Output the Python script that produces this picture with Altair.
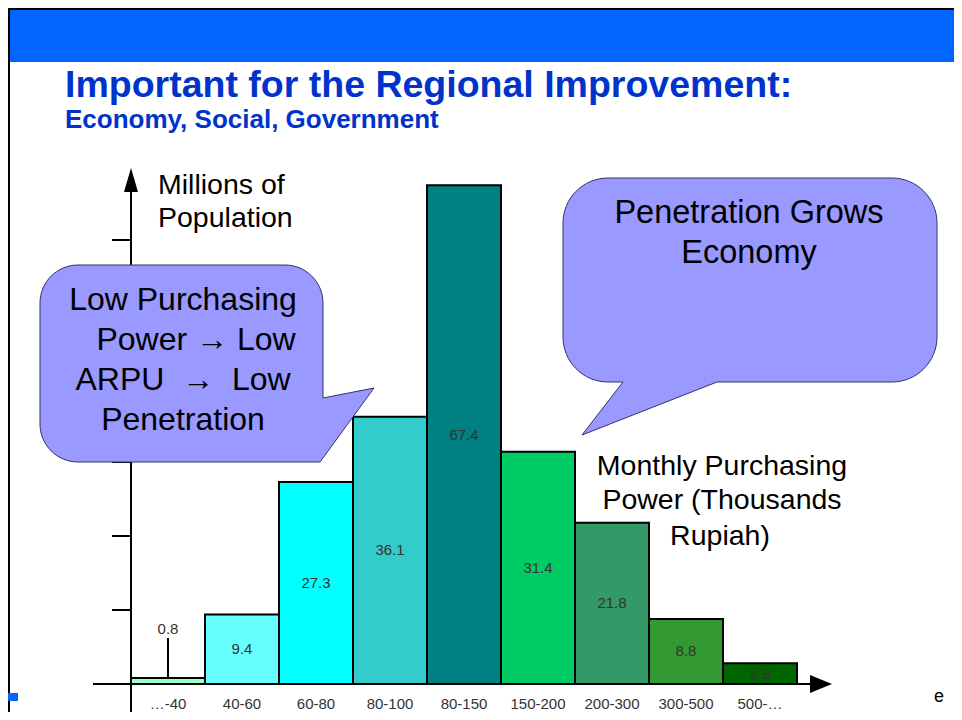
import altair as alt
import pandas as pd

# ---------------- data ----------------
categories = ["…-40", "40-60", "60-80", "80-100", "80-150", "150-200", "200-300", "300-500", "500-…"]
population = [0.8, 9.4, 27.3, 36.1, 67.4, 31.4, 21.8, 8.8, 2.8]
bar_colors = ["#99FFCC", "#66FFFF", "#00FFFF", "#33CCCC", "#008080",
              "#00CC66", "#339966", "#339933", "#006600"]
y_ticks = [10, 20, 30, 40, 50, 60]

FONT = "Liberation Sans"
OFF = 8  # page margin: image coords -> chart coords
W, H = 946, 704

df = pd.DataFrame({"cat": categories, "value": population})
df["label_y"] = [v + 6.6 if v < 2 else v / 2 for v in population]
small = df[df["value"] < 2].copy()
small["stem_top"] = small["value"] + 5.4
ticks_df = pd.DataFrame({"tick": y_ticks})
one = pd.DataFrame({"a": [0]})

x_scale = alt.Scale(domain=categories, range=[131 - OFF, 797 - OFF], paddingInner=0, paddingOuter=0)
y_scale = alt.Scale(domain=[0, 70], range=[684 - OFF, 166 - OFF])
X = alt.X("cat:N", scale=x_scale, sort=categories, axis=None)


def txt(s, x, y, size, align="center", weight="normal", color="black", baseline="middle"):
    return alt.Chart(one).mark_text(
        text=s, align=align, baseline=baseline, fontSize=size, fontWeight=weight,
        color=color, font=FONT
    ).encode(x=alt.value(x - OFF), y=alt.value(y - OFF))


def rule(x, y, x2=None, y2=None, color="black", width=2):
    enc = {"x": alt.value(x - OFF), "y": alt.value(y - OFF)}
    if x2 is not None:
        enc["x2"] = alt.value(x2 - OFF)
    if y2 is not None:
        enc["y2"] = alt.value(y2 - OFF)
    return alt.Chart(one).mark_rule(color=color, strokeWidth=width).encode(**enc)


def shape(path, fill, stroke=None, sw=1):
    kw = dict(shape=path, size=4, filled=True, fill=fill, opacity=1, fillOpacity=1)
    if stroke:
        kw.update(stroke=stroke, strokeWidth=sw, strokeOpacity=1)
    else:
        kw.update(strokeWidth=0)
    return alt.Chart(one).mark_point(**kw).encode(x=alt.value(0), y=alt.value(0))


# ---------------- slide decoration ----------------
header = alt.Chart(one).mark_rect(color="#0066FF").encode(
    x=alt.value(0), x2=alt.value(W), y=alt.value(0), y2=alt.value(54))
border_left = alt.Chart(one).mark_rule(color="black", strokeWidth=2).encode(
    x=alt.value(1), y=alt.value(0), y2=alt.value(H))
border_top = alt.Chart(one).mark_rule(color="black", strokeWidth=2).encode(
    x=alt.value(0), x2=alt.value(W), y=alt.value(1))
bullet = alt.Chart(one).mark_rect(color="#0066FF").encode(
    x=alt.value(0), x2=alt.value(10), y=alt.value(685), y2=alt.value(693))

title = txt("Important for the Regional Improvement:", 65, 97, 37.5, align="left",
            weight="bold", color="#0033CC", baseline="alphabetic")
subtitle = txt("Economy, Social, Government", 65, 128, 26, align="left",
               weight="bold", color="#0033CC", baseline="alphabetic")
edge_e = txt("e", 934, 697, 18, align="left")

# ---------------- axes ----------------
y_axis = rule(131, 186, y2=712)
x_axis = rule(93, 684, x2=814)
y_arrow = shape("M123,160 L116,184 L130,184 Z", "black")
x_arrow = shape("M824,676 L802,667 L802,685 Z", "black")
tick_marks = alt.Chart(ticks_df).mark_rule(color="black", strokeWidth=2).encode(
    y=alt.Y("tick:Q", scale=y_scale, axis=None),
    x=alt.value(112 - OFF), x2=alt.value(131 - OFF))

# ---------------- bars ----------------
bars = alt.Chart(df).mark_bar(stroke="black", strokeWidth=2, opacity=1).encode(
    x=X,
    y=alt.Y("value:Q", scale=y_scale, axis=None),
    color=alt.Color("cat:N", scale=alt.Scale(domain=categories, range=bar_colors), legend=None),
)
stems = alt.Chart(small).mark_rule(color="black", strokeWidth=2).encode(
    x=X,
    y=alt.Y("value:Q", scale=y_scale, axis=None),
    y2="stem_top:Q",
)
bar_labels = alt.Chart(df).mark_text(fontSize=15, color="#333333", font=FONT).encode(
    x=X,
    y=alt.Y("label_y:Q", scale=y_scale, axis=None),
    text=alt.Text("value:Q", format=".1f"),
)
x_labels = alt.Chart(df).mark_text(fontSize=15, color="#333333", font=FONT).encode(
    x=X, y=alt.value(704 - OFF), text="cat:N")

# ---------------- callouts ----------------
left_bubble = shape(
    "M70,257 L277,257 A38,38 0 0 1 315,295 L315,390 L366,380 L312,454 "
    "L70,454 A38,38 0 0 1 32,416 L32,295 A38,38 0 0 1 70,257 Z",
    "#9999FF", stroke="#333366", sw=1)
right_bubble = shape(
    "M600,170 L884,170 A45,45 0 0 1 929,215 L929,329 A45,45 0 0 1 884,374 "
    "L709,374 L574,427 L615,374 L600,374 A45,45 0 0 1 555,329 L555,215 "
    "A45,45 0 0 1 600,170 Z",
    "#9999FF", stroke="#333366", sw=1)

NB = "\u00a0"
texts = [
    txt("Low Purchasing", 183, 300, 32),
    txt("Power \u2192 Low", 196, 340, 32),
    txt("ARPU" + NB * 2 + "\u2192" + NB * 2 + "Low", 183, 380, 32),
    txt("Penetration", 183, 420, 32),
    txt("Penetration Grows", 749, 213, 32.5),
    txt("Economy", 749, 253, 32.5),
    txt("Millions of", 158, 185, 28.5, align="left"),
    txt("Population", 158, 218, 28.5, align="left"),
    txt("Monthly Purchasing", 722, 466, 28.5),
    txt("Power (Thousands", 722, 500, 28.5),
    txt("Rupiah)", 720, 536, 28.5),
]

chart = alt.layer(
    header, border_top, border_left, bullet, title, subtitle, edge_e,
    y_axis, x_axis, tick_marks, y_arrow, x_arrow,
    bars, stems, bar_labels, x_labels,
    left_bubble, right_bubble, *texts,
).properties(
    width=W, height=H, padding=0,
    autosize=alt.AutoSizeParams(type="none"),
).configure_view(stroke=None).configure(background="white")

chart.save("out.html", embed_options={"renderer": "svg", "actions": False})
